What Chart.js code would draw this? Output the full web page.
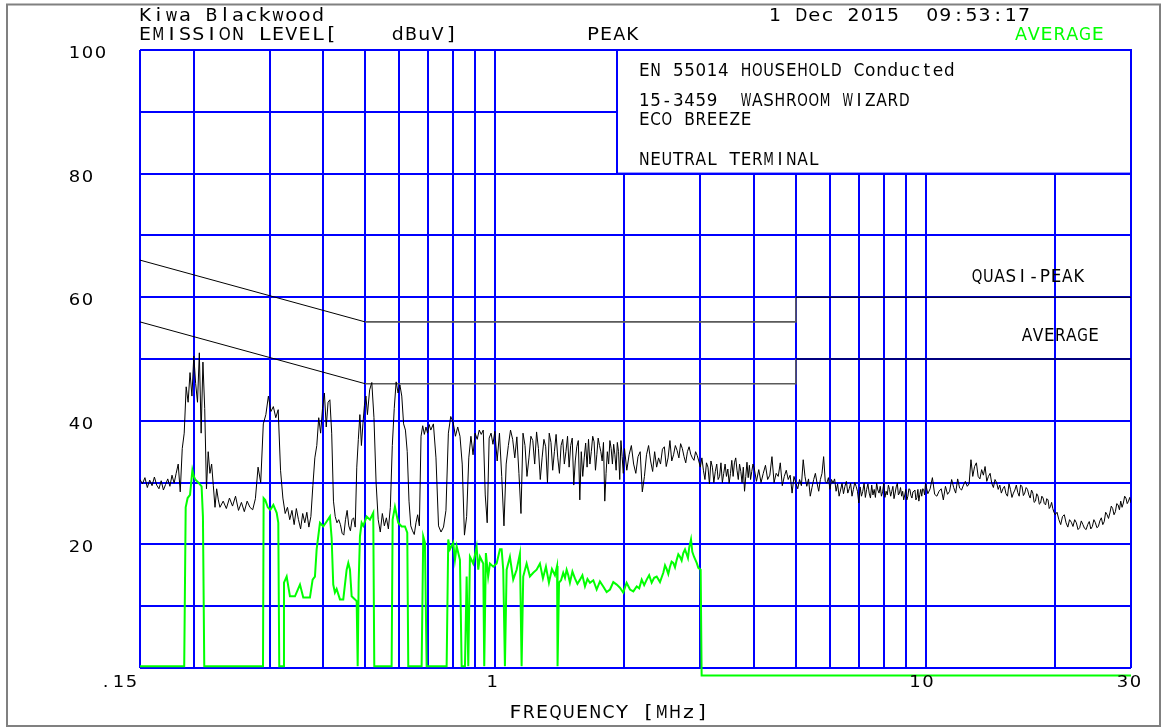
<!DOCTYPE html>
<html><head><meta charset="utf-8">
<script src="https://cdn.jsdelivr.net/npm/chart.js@4.4.0/dist/chart.umd.min.js"></script>
<style>html,body{margin:0;padding:0;background:#fff;}canvas{display:block;}</style>
</head><body>
<canvas id="c" width="1163" height="728"></canvas>
<script>
// ---------- DATA ----------
const xGridMHz = [0.15,0.2,0.3,0.4,0.5,0.6,0.7,0.8,0.9,1,2,3,4,5,6,7,8,9,10,20,30];
const yTickValues = [100,80,60,40,20];
const xTickValues = [0.15,1,10,30];
const xTickLabels = ['.15','1','10','30'];

const peakFreqMHz = [
0.150,0.152,0.154,0.156,0.158,0.160,0.162,0.164,0.166,0.168,0.170,0.172,0.174,0.176,0.178,0.180,0.182,0.184,0.186,0.188,
0.190,0.192,0.194,0.196,0.198,0.200,0.202,0.204,0.206,0.208,0.210,0.212,0.214,0.216,0.218,0.220,0.222,0.224,0.226,0.228,0.230,
0.234,0.238,0.242,0.246,0.250,0.254,0.258,0.262,0.266,0.270,0.274,0.278,
0.282,0.286,0.290,0.294,0.298,0.302,0.306,0.310,0.314,0.318,0.322,0.326,
0.330,0.334,0.338,0.342,0.346,0.350,0.354,0.358,0.362,0.366,0.370,0.374,
0.378,0.382,0.386,0.390,0.394,0.398,0.402,0.406,0.410,0.414,0.418,0.422,
0.426,0.430,0.434,0.438,0.442,0.446,0.450,0.454,0.458,0.462,0.466,0.470,
0.474,0.478,0.482,0.486,0.490,0.494,0.498,0.502,
0.506,0.512,0.518,0.524,0.530,0.536,0.542,0.548,0.554,0.560,0.566,0.572,0.578,0.584,0.590,0.596,0.602,
0.608,0.614,0.620,0.626,0.632,0.638,0.644,0.650,0.656,0.662,0.668,0.674,0.680,0.686,0.692,0.698,0.704,
0.71,0.72,0.73,0.74,0.75,0.76,0.77,0.78,0.79,0.80,0.81,0.82,0.83,0.84,0.85,0.86,0.87,0.88,0.89,0.90,
0.91,0.92,0.93,0.94,0.95,0.96,0.97,0.98,0.99,1.00,
1.0125,1.025,1.0375,1.05,1.0625,1.075,1.0875,1.10,1.1125,1.125,1.1375,1.15,1.1625,1.175,1.1875,1.20,
1.2125,1.225,1.2375,1.25,1.2625,1.275,1.2875,1.30,1.3125,1.325,1.3375,1.35,1.3625,1.375,1.3875,1.40,
1.4125,1.425,1.4375,1.45,1.4625,1.475,1.4875,1.50,1.5125,1.525,1.5375,1.55,1.5625,1.575,1.5875,1.60,
1.6125,1.625,1.6375,1.65,1.6625,1.675,1.6875,1.70,1.7125,1.725,1.7375,1.75,1.7625,1.775,1.7875,1.80,
1.8125,1.825,1.8375,1.85,1.8625,1.875,1.8875,1.90,1.9125,1.925,1.9375,1.95,1.9625,1.975,1.9875,2.00,
2.025,2.05,2.075,2.10,2.125,2.15,2.175,2.20,2.225,2.25,2.275,2.30,2.325,2.35,2.375,2.40,
2.425,2.45,2.475,2.50,2.525,2.55,2.575,2.60,2.625,2.65,2.675,2.70,2.725,2.75,2.775,2.80,
2.825,2.85,2.875,2.90,2.925,2.95,2.975,3.00,3.025,3.05,3.075,3.10,3.125,3.15,3.175,3.20,
3.225,3.25,3.275,3.30,3.325,3.35,3.375,3.40,3.425,3.45,3.475,3.50,3.525,3.55,3.575,3.60,
3.625,3.65,3.675,3.70,3.725,3.75,3.775,3.80,3.825,3.85,3.875,3.90,3.925,3.95,3.975,4.00,
4.05,4.1,4.15,4.2,4.25,4.3,4.35,4.4,4.45,4.5,4.55,4.6,4.65,4.7,4.75,4.8,4.85,4.9,4.95,5.0,
5.05,5.1,5.15,5.2,5.25,5.3,5.35,5.4,5.45,5.5,5.55,5.6,5.65,5.7,5.75,5.8,5.85,5.9,5.95,6.0,
6.05,6.1,6.15,6.2,6.25,6.3,6.35,6.4,6.45,6.5,6.55,6.6,6.65,6.7,6.75,6.8,6.85,6.9,6.95,7.0,
7.05,7.1,7.15,7.2,7.25,7.3,7.35,7.4,7.45,7.5,7.55,7.6,7.65,7.7,7.75,7.8,7.85,7.9,7.95,8.0,
8.05,8.1,8.15,8.2,8.25,8.3,8.35,8.4,8.45,8.5,8.55,8.6,8.65,8.7,8.75,8.8,8.85,8.9,8.95,9.0,
9.05,9.1,9.15,9.2,9.25,9.3,9.35,9.4,9.45,9.5,9.55,9.6,9.65,9.7,9.75,9.8,9.85,9.9,9.95,10.0,
10.125,10.25,10.375,10.5,10.625,10.75,10.875,11.0,11.125,11.25,11.375,11.5,11.625,11.75,11.875,12.0,
12.125,12.25,12.375,12.5,12.625,12.75,12.875,13.0,13.125,13.25,13.375,13.5,13.625,13.75,13.875,14.0,
14.125,14.25,14.375,14.5,14.625,14.75,14.875,15.0,15.125,15.25,15.375,15.5,15.625,15.75,15.875,16.0,
16.125,16.25,16.375,16.5,16.625,16.75,16.875,17.0,17.125,17.25,17.375,17.5,17.625,17.75,17.875,18.0,
18.125,18.25,18.375,18.5,18.625,18.75,18.875,19.0,19.125,19.25,19.375,19.5,19.625,19.75,19.875,20.0,
20.2,20.4,20.6,20.8,21.0,21.2,21.4,21.6,21.8,22.0,22.2,22.4,22.6,22.8,23.0,23.2,23.4,23.6,23.8,24.0,
24.2,24.4,24.6,24.8,25.0,25.2,25.4,25.6,25.8,26.0,26.2,26.4,26.6,26.8,27.0,27.2,27.4,27.6,27.8,28.0,
28.2,28.4,28.6,28.8,29.0,29.2,29.4,29.6,29.8,30.0
];
const peakLevel = [
30.5,29.8,30.8,29.2,30.4,29.5,30.9,29.6,29.0,30.3,28.8,29.7,30.6,29.4,31.2,29.9,31.5,33.0,28.5,35.5,
38.0,45.5,43.0,47.8,44.0,50.5,46.0,43.0,51.0,38.0,49.5,42.0,29.0,35.0,31.5,33.0,29.5,26.0,29.0,27.2,26.0,
27.0,25.8,27.5,26.2,27.8,25.5,26.8,25.3,27.0,26.0,25.6,27.4,
32.5,30.0,39.5,41.0,44.0,41.5,42.3,40.5,41.8,32.0,27.5,25.0,
26.0,24.0,25.5,23.2,25.8,24.0,22.5,25.0,23.5,25.2,22.8,24.5,
29.5,34.0,36.0,40.5,38.0,42.0,44.5,39.0,43.0,43.4,38.0,27.0,
24.5,23.5,24.0,23.2,21.8,21.5,24.0,25.5,23.0,22.2,24.0,24.3,
22.8,32.5,37.0,41.0,36.0,39.5,42.5,44.0,
41.0,45.0,46.2,40.5,30.0,24.0,22.0,25.0,23.0,24.3,22.5,26.0,36.0,42.0,46.3,44.5,45.8,
44.0,39.5,38.5,35.0,27.0,23.0,22.2,21.6,23.5,24.8,23.0,37.5,39.2,37.8,39.0,38.0,39.4,
38.5,39.5,34.0,23.0,22.0,22.8,25.5,38.0,40.7,39.8,37.5,39.0,37.5,33.0,21.5,24.5,34.0,37.5,34.5,38.0,
37.0,38.5,37.8,38.5,28.0,23.5,37.2,38.0,36.2,38.3,
33.5,38.0,31.0,23.0,33.0,36.0,38.5,37.0,34.0,37.4,31.5,25.0,38.0,36.0,31.0,34.0,
37.5,36.8,33.0,38.2,35.5,30.5,34.0,37.0,35.8,30.0,38.0,36.5,32.0,35.0,37.8,34.0,
31.5,36.0,37.0,33.0,35.0,37.5,32.5,36.0,37.2,29.6,33.5,35.8,36.8,27.2,35.0,31.0,
34.0,36.4,32.5,37.0,33.0,35.0,37.5,36.6,32.0,34.5,37.2,36.0,35.0,33.5,36.5,27.0,
31.5,35.0,33.0,36.8,35.5,33.0,36.2,34.5,32.0,36.5,35.0,30.5,36.8,34.2,31.5,35.5,
32.0,34.5,36.0,33.0,31.5,34.2,35.0,28.5,31.0,34.5,36.0,33.5,31.8,35.0,32.5,34.0,
33.0,35.4,35.8,32.6,34.0,36.8,33.5,34.5,36.0,35.2,34.0,36.3,35.5,34.2,33.2,35.0,
35.8,34.6,34.0,33.6,35.0,34.4,33.5,32.5,34.0,32.0,30.5,33.2,32.5,29.8,33.5,32.5,
30.0,31.8,33.0,30.5,31.0,33.2,30.0,31.5,33.0,31.0,32.2,29.9,31.5,33.6,31.0,33.2,
34.0,32.0,30.5,33.0,31.8,30.0,32.5,28.6,31.0,33.3,30.8,32.8,30.5,31.8,33.0,32.4,
30.2,32.1,30.0,31.5,32.8,30.5,31.2,34.2,30.0,31.5,31.0,33.2,29.5,31.0,32.0,30.5,31.2,28.3,31.0,29.9,
29.0,30.5,29.5,33.7,31.0,29.4,30.6,27.8,29.2,30.5,31.5,29.9,28.6,30.5,31.5,34.2,30.2,29.9,30.8,28.9,
30.5,29.9,30.6,28.6,29.8,27.8,28.8,29.9,28.2,29.4,30.2,28.3,29.0,29.9,27.8,28.9,30.0,29.4,28.6,26.7,
29.3,27.8,28.6,29.9,27.6,28.9,29.8,28.3,27.5,29.6,28.0,28.9,27.6,29.9,28.8,28.3,29.4,27.8,28.5,29.9,
27.6,28.6,28.0,29.6,28.9,27.8,28.6,29.4,27.4,28.3,29.3,29.9,28.0,28.3,29.2,27.8,28.6,27.2,28.0,28.9,
27.2,27.8,29.0,28.9,27.9,27.5,28.5,28.6,28.8,27.2,27.6,28.9,27.0,28.1,28.9,27.8,29.0,28.9,28.0,29.9,
28.2,29.0,30.8,28.1,27.8,28.6,29.0,27.2,29.4,28.1,28.6,30.5,29.2,28.3,30.6,29.1,
28.8,29.6,30.2,29.4,29.8,33.7,31.0,32.6,33.2,31.0,30.6,32.1,31.2,32.6,30.2,31.0,
31.5,29.9,29.2,30.5,30.0,28.9,29.6,28.3,29.0,29.4,28.2,27.8,29.8,28.9,27.6,28.3,
28.8,29.6,28.4,27.8,29.6,29.4,27.9,28.3,29.2,28.9,28.0,27.5,28.8,28.3,26.8,27.0,
28.2,27.8,26.5,26.7,27.8,27.5,26.6,26.4,27.4,27.2,25.8,26.1,26.8,25.8,25.2,24.8,
25.2,24.0,23.2,24.5,24.8,23.5,22.8,24.0,23.6,22.9,24.0,23.5,22.4,22.7,23.8,23.2,22.6,22.4,23.2,23.7,
22.5,22.9,24.0,23.5,22.7,22.9,23.8,24.3,23.2,23.7,25.2,24.8,24.2,25.1,26.2,25.8,24.8,25.3,26.6,26.4,
25.6,27.0,26.0,26.7,27.8,27.5,26.6,27.0,27.6,26.7
];

const avgFreqMHz = [
0.150,0.190,0.1915,0.1935,0.196,0.1985,0.200,0.2015,0.205,0.2085,0.210,0.2115,
0.2895,0.2905,0.293,0.297,0.301,0.306,0.3115,0.3142,0.3158,
0.3227,0.3239,0.3286,0.3344,0.3435,0.3528,0.3591,0.3721,0.3775,0.3822,0.3857,0.3926,0.3996,0.4069,0.4141,
0.4179,0.4215,0.4253,0.4292,0.4369,0.4447,0.4528,0.4568,0.4609,0.4651,0.4734,0.4777,0.4803,0.4828,0.4862,
0.4906,0.4949,0.5039,0.5129,0.5220,0.5249,
0.5759,0.5790,0.5862,0.5966,0.6076,0.6184,0.6261,0.6295,
0.6761,0.6819,0.6882,0.6945,
0.7728,0.7795,0.7866,0.8006,0.8079,0.8153,0.8298,0.8374,0.8523,0.8601,0.8676,0.8753,0.8909,0.9072,0.9151,
0.9234,0.9398,0.9449,0.9533,0.9649,0.9741,0.9914,1.0097,1.0276,1.0370,1.0459,1.0554,1.0651,1.0840,1.1033,
1.1236,1.1435,1.1539,1.1639,1.1852,1.2063,1.2278,1.2503,1.2726,1.2932,1.3141,1.3353,1.3569,1.3789,1.3947,
1.3984,1.4095,1.425,1.4414,1.455,1.4679,1.481,1.494,1.514,1.5345,1.555,1.5765,1.597,1.6192,1.641,1.663,
1.693,1.7237,1.754,1.7852,1.818,1.851,1.884,1.9186,1.952,1.9867,2.023,2.060,2.097,2.1352,2.164,2.1928,
2.222,2.2523,2.282,2.3129,2.344,2.3757,2.418,2.4611,2.484,2.5063,2.528,2.551,2.573,2.5964,2.620,2.6441,
2.667,2.691,2.715,2.7389,2.764,2.7892,2.808,2.8274,2.8542,2.8742,2.9003,2.9426,2.9682,3.0053,3.0212,30.0
];
const avgLevel = [
0.3,0.3,26.0,27.5,28.0,32.0,31.0,30.5,30.0,29.4,24.5,0.3,
0.3,27.5,27.2,26.0,25.6,26.4,25.1,23.5,0.3,
0.3,13.8,14.8,11.6,11.6,13.5,11.4,11.4,14.3,14.8,19.2,23.5,22.9,23.7,24.5,
21.0,13.5,12.2,12.8,11.1,11.1,15.9,17.0,15.9,11.6,11.1,10.8,0.3,13.8,21.3,
23.5,23.0,24.5,24.0,25.1,0.3,
0.3,24.0,26.1,23.5,22.9,22.9,21.9,0.3,
0.3,21.3,20.3,0.3,
0.3,20.8,19.2,20.3,17.5,19.7,17.5,0.3,0.3,14.8,0.3,18.0,16.9,19.6,15.9,
18.0,16.9,0.3,18.6,14.8,16.9,16.4,16.9,19.2,19.2,15.9,0.3,15.9,18.0,14.3,
15.9,18.5,0.3,14.8,16.9,14.8,15.4,15.9,16.9,14.5,16.4,13.8,16.0,15.0,16.5,
0.3,13.8,14.2,15.4,14.6,15.9,15.0,13.8,15.6,14.5,13.6,14.3,15.0,13.2,14.4,13.8,
14.2,12.7,14.0,13.2,12.3,12.7,13.9,13.5,13.0,12.2,13.8,12.7,12.4,13.2,12.9,14.3,
13.4,14.3,15.0,13.8,14.6,14.8,13.9,15.4,16.6,16.0,15.2,16.4,17.2,17.0,16.3,17.5,
18.4,18.0,17.4,18.6,19.2,18.4,17.8,19.5,20.8,18.8,18.0,17.0,16.2,15.9,-1.2,-1.2
];

const qpLimitFreq = [0.15,0.5,5,5,30];
const qpLimitLevel = [66,56,56,60,60];
const avLimitFreq = [0.15,0.5,5,5,30];
const avLimitLevel = [56,46,46,50,50];

const headerLeft1 = 'Kiwa Blackwood';
const headerLeft2 = 'EMISSION LEVEL[    dBuV]';
const headerMid2 = 'PEAK';
const headerRight1 = '1 Dec 2015  09:53:17';
const headerRight2 = 'AVERAGE';
const infoLines = ['EN 55014 HOUSEHOLD Conducted','15-3459  WASHROOM WIZARD','ECO BREEZE','NEUTRAL TERMINAL'];
const limitLabels = ['QUASI-PEAK','AVERAGE'];
const xTitle = 'FREQUENCY [MHz]';

// ---------- DRAWING HELPERS ----------
const FONT = '"DejaVu Sans","Liberation Sans",sans-serif';
function drawMono(ctx, str, cx0, base, pitch, size, stretch, maxW, color) {
  ctx.save();
  ctx.font = size + 'px ' + FONT;
  ctx.fillStyle = color || '#000';
  ctx.textAlign = 'center';
  ctx.textBaseline = 'alphabetic';
  for (let i = 0; i < str.length; i++) {
    const ch = str[i];
    if (ch === ' ') continue;
    const w = ctx.measureText(ch).width * stretch;
    const s = w > maxW ? stretch * maxW / w : stretch;
    ctx.save();
    ctx.translate(cx0 + i * pitch, base);
    ctx.scale(s, 1);
    ctx.fillText(ch, 0, 0);
    ctx.restore();
  }
  ctx.restore();
}
const pts = (fs, vs) => fs.map((f, i) => ({x: f, y: vs[i]}));
const limitSegColor = c => (c.p0DataIndex === 1 || c.p0DataIndex === 2) ? '#5a5a5a' : '#000';
const limitSegWidth = c => (c.p0DataIndex === 1 || c.p0DataIndex === 2) ? 1.6 : 1;

const overlay = {
  id: 'overlay',
  beforeDatasetsDraw(chart) {
    const {ctx, chartArea: a, scales: {x, y}} = chart;
    const bx = Math.round(x.getPixelForValue(1.92));
    const by = y.getPixelForValue(80);
    ctx.save();
    ctx.fillStyle = '#fff';
    ctx.fillRect(bx, a.top, a.right - bx, by - a.top);
    ctx.strokeStyle = '#0000ff';
    ctx.lineWidth = 2;
    ctx.strokeRect(bx, a.top, a.right - bx, by - a.top);
    ctx.restore();
  },
  afterDraw(chart) {
    const {ctx, scales: {x, y}} = chart;
    ctx.save();
    ctx.strokeStyle = '#808080';
    ctx.lineWidth = 2;
    ctx.strokeRect(7, 4.5, 1153, 721.5);
    ctx.restore();
    // header
    drawMono(ctx, headerLeft1, 145, 21, 13.3, 18, 1.15, 12, '#000');
    drawMono(ctx, headerLeft2, 145, 40, 13.3, 18, 1.15, 12, '#000');
    drawMono(ctx, headerMid2, 593, 40, 13.1, 18, 1.15, 12, '#000');
    drawMono(ctx, headerRight1, 775, 21, 13.1, 18, 1.15, 12, '#000');
    drawMono(ctx, headerRight2, 1021, 40, 12.8, 18, 1.15, 12, '#00ff00');
    // info box
    const infoBase = [75.5, 105.5, 124.5, 164.5];
    infoLines.forEach((t, i) => drawMono(ctx, t, 644.3, infoBase[i], 11.3, 17, 1.0, 10.6, '#000'));
    // limit labels
    drawMono(ctx, limitLabels[0], 977, 282, 11.3, 17, 1.0, 10.6, '#000');
    drawMono(ctx, limitLabels[1], 1027, 341, 11.1, 17, 1.0, 10.6, '#000');
    // y tick labels
    yTickValues.forEach(v => drawMono(ctx, String(v), 74.5, y.getPixelForValue(v) + 8, 13, 15, 1.2, 11.5, '#000'));
    // x tick labels
    const offs = [-34.5, -2.5, -10.6, -8.5];
    xTickValues.forEach((v, i) => drawMono(ctx, xTickLabels[i], x.getPixelForValue(v) + offs[i], 687, 13, 15, 1.2, 11.5, '#000'));
    drawMono(ctx, xTitle, 515.5, 718, 13.3, 18, 1.15, 12, '#000');
  }
};

new Chart(document.getElementById('c').getContext('2d'), {
  type: 'line',
  data: {
    datasets: [
      {label: 'Peak', data: pts(peakFreqMHz, peakLevel), borderColor: '#000', borderWidth: 1, order: 1},
      {label: 'Average', data: pts(avgFreqMHz, avgLevel), borderColor: '#00ff00', borderWidth: 2, clip: false, order: 2},
      {label: 'QP limit', data: pts(qpLimitFreq, qpLimitLevel), borderColor: '#000', borderWidth: 1, order: 3,
        segment: {borderColor: limitSegColor, borderWidth: limitSegWidth}},
      {label: 'AV limit', data: pts(avLimitFreq, avLimitLevel), borderColor: '#000', borderWidth: 1, order: 3,
        segment: {borderColor: limitSegColor, borderWidth: limitSegWidth}}
    ]
  },
  options: {
    responsive: false,
    animation: false,
    devicePixelRatio: 1,
    layout: {padding: {left: 140, top: 50, right: 32, bottom: 60}},
    elements: {point: {radius: 0, hoverRadius: 0}, line: {tension: 0, fill: false}},
    plugins: {legend: {display: false}, tooltip: {enabled: false}},
    events: [],
    scales: {
      x: {
        type: 'logarithmic', min: 0.15, max: 30,
        afterBuildTicks: s => { s.ticks = xGridMHz.map(v => ({value: v})); },
        ticks: {display: false},
        grid: {color: '#0000ff', lineWidth: 2, drawTicks: false},
        border: {display: false}
      },
      y: {
        type: 'linear', min: 0, max: 100,
        ticks: {display: false, stepSize: 10},
        grid: {color: '#0000ff', lineWidth: 2, drawTicks: false},
        border: {display: false}
      }
    }
  },
  plugins: [overlay]
});
</script>
</body></html>
